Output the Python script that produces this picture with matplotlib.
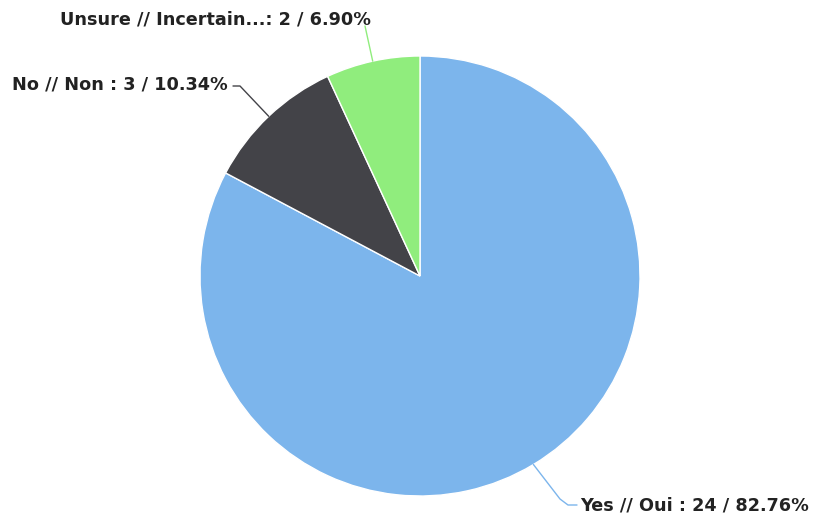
import numpy as np
import matplotlib
matplotlib.use("Agg")
import matplotlib.pyplot as plt

labels = ["Yes // Oui", "No // Non", "Unsure // Incertain..."]
counts = [24, 3, 2]
percents = ["82.76%", "10.34%", "6.90%"]
colors = ["#7cb5ec", "#434348", "#90ed7d"]

W, H = 820, 518
fig = plt.figure(figsize=(W / 100, H / 100), dpi=100)
ax = fig.add_axes([0, 0, 1, 1])
cx, cy, R = 420, H - 276, 220

wedges, _ = ax.pie(counts, colors=colors, startangle=90, counterclock=False,
                   center=(cx, cy), radius=R, frame=True,
                   wedgeprops=dict(edgecolor="white", linewidth=1))
ax.set_xlim(0, W)
ax.set_ylim(0, H)
ax.set_aspect("equal")
ax.axis("off")

# label anchor positions (text left edge) and leader elbows, in pixel coords from top
text_pos = [(580, 506), (12, 84), (60, 19)]
elbows = [[(560, 499), (568, 505), (577, 505)],
          [(240, 86), (233, 86)],
          [(365, 26)]]

for w, lab, c, p, col, tp, el in zip(wedges, labels, counts, percents, colors, text_pos, elbows):
    mid = np.deg2rad((w.theta1 + w.theta2) / 2)
    x0, y0 = cx + R * np.cos(mid), cy + R * np.sin(mid)
    xs = [x0] + [e[0] for e in el]
    ys = [y0] + [H - e[1] for e in el]
    ax.plot(xs, ys, color=col, lw=1, solid_capstyle="round")
    sep = ": " if lab.endswith("...") else " : "
    ax.text(tp[0], H - tp[1], f"{lab}{sep}{c} / {p}",
            ha="left", va="center", fontsize=12.7, fontweight="bold",
            family="DejaVu Sans", color="#222222")

fig.savefig("out.png", dpi=100)
